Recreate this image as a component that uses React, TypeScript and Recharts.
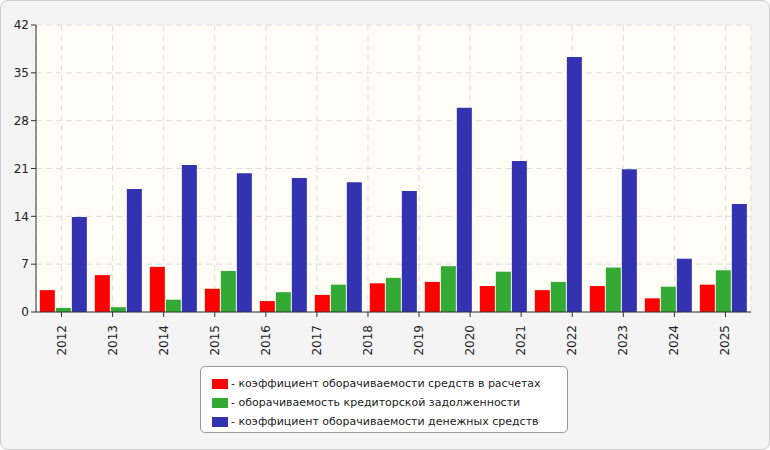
import { BarChart, Bar, XAxis, YAxis, CartesianGrid } from 'recharts';

const groups = ['2012', '2013', '2014', '2015', '2016', '2017', '2018', '2019', '2020', '2021', '2022', '2023', '2024'];
const axisYears = ['2012', '2013', '2014', '2015', '2016', '2017', '2018', '2019', '2020', '2021', '2022', '2023', '2024', '2025'];
const settlements = [3.2, 5.4, 6.6, 3.4, 1.6, 2.5, 4.2, 4.4, 3.8, 3.2, 3.8, 2.0, 4.0];
const payables = [0.6, 0.7, 1.8, 6.0, 2.9, 4.0, 5.0, 6.7, 5.9, 4.4, 6.5, 3.7, 6.1];
const cash = [13.9, 18.0, 21.5, 20.3, 19.6, 19.0, 17.7, 29.9, 22.1, 37.3, 20.9, 7.8, 15.8];
const yTicks = [0, 7, 14, 21, 28, 35, 42];

const series = [
  { key: 'a', color: '#ff0000', name: 'коэффициент оборачиваемости средств в расчетах' },
  { key: 'b', color: '#33aa33', name: 'оборачиваемость кредиторской задолженности' },
  { key: 'c', color: '#3333b2', name: 'коэффициент оборачиваемости денежных средств' },
];

// p spans 0..14 so the label axis covers the same width as the 13 bar groups
const data = groups.map((g, i) => ({
  g, a: settlements[i], b: payables[i], c: cash[i],
  p: (i * axisYears.length) / (groups.length - 1),
}));
const labelTicks = axisYears.map((_, i) => i + 0.5);

const font = '"DejaVu Sans", sans-serif';

const YearTick = ({ x, y, payload }: any) => (
  <text x={x} y={y + 6} transform={`rotate(-90 ${x} ${y + 6})`} textAnchor="end" dominantBaseline="central"
    fontSize={12} fill="#222" fontFamily={font}>
    {axisYears[Math.floor(payload.value)]}
  </text>
);

export default function App() {
  return (
    <div style={{ position: 'absolute', left: 0, top: 0, width: 770, height: 450, fontFamily: font }}>
      <div style={{ position: 'absolute', inset: 0, background: '#f4f4f4', border: '1px solid #ccc', borderRadius: 8, boxSizing: 'border-box' }} />
      <BarChart width={770} height={450} data={data} margin={{ top: 25, right: 19, left: 0, bottom: 98 }}
        barCategoryGap="7%" barGap={1} style={{ position: 'absolute', left: 0, top: 0 }}>
        <CartesianGrid xAxisId="labels" strokeDasharray="6 4" stroke="#dddddd" fill="#fdfdf5" />
        <XAxis xAxisId="bars" dataKey="g" hide height={0} />
        <XAxis xAxisId="labels" dataKey="p" type="number" domain={[0, 14]} ticks={labelTicks} interval={0}
          allowDataOverflow height={40} tick={<YearTick />} tickLine={{ stroke: '#333' }} tickSize={5}
          axisLine={{ stroke: '#333' }} />
        <YAxis width={36} domain={[0, 42]} ticks={yTicks} interval={0} tickSize={5}
          tick={{ fontSize: 12, fill: '#222', fontFamily: font }} axisLine={{ stroke: '#333' }} tickLine={{ stroke: '#333' }} />
        {series.map((s) => (
          <Bar key={s.key} xAxisId="bars" dataKey={s.key} fill={s.color} isAnimationActive={false} />
        ))}
      </BarChart>
      <div style={{ position: 'absolute', left: 200, top: 366, width: 368, height: 67, boxSizing: 'border-box', background: '#fff',
        border: '1px solid #999', borderRadius: 5, padding: '7px 0 0 11px', fontSize: 11, color: '#222', lineHeight: '19px' }}>
        {series.map((s) => (
          <div key={s.key} style={{ display: 'flex', alignItems: 'center', whiteSpace: 'nowrap' }}>
            <span style={{ display: 'inline-block', width: 16, height: 10, background: s.color, marginRight: 3 }} />
            - {s.name}
          </div>
        ))}
      </div>
    </div>
  );
}
